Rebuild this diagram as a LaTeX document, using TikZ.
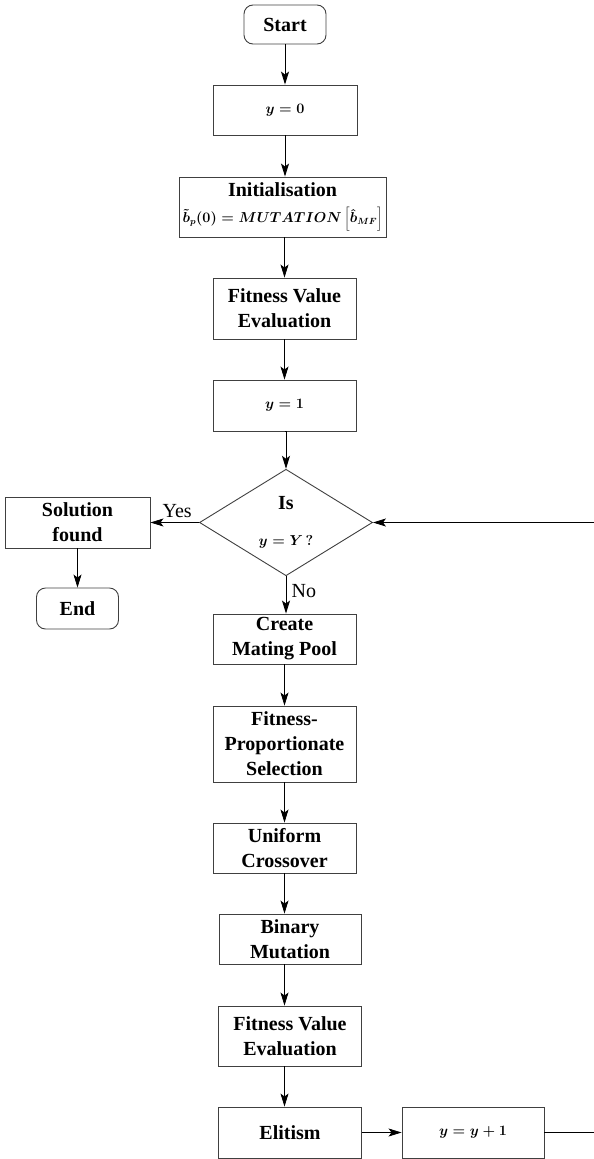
\documentclass[tikz,border=0pt]{standalone}
\usepackage{fontspec}
\setmainfont{Liberation Serif}
\usetikzlibrary{shapes.geometric,arrows.meta}
\begin{document}
\begin{tikzpicture} [x = 1pt, y = -1pt,
	box/.style = {draw = black!75, line width = 0.9pt, align = center, inner sep = 0pt, font = \fontsize{20}{25}\selectfont\bfseries},
	term/.style = {box, rounded corners = 9pt},
	maths/.style = {font = \fontsize{14}{16}\selectfont\boldmath},
	flow/.style = {line width = 0.8pt, -{Stealth[length = 13pt, width = 8pt, inset = 3pt]}},
	tag/.style = {font = \fontsize{20}{22}\selectfont}]
	\useasboundingbox (0,0) rectangle (594,1159);
	\node [term, minimum width = 82pt, minimum height = 39pt] (start) at (285,24.5) {Start};
	\node [box, maths, minimum width = 144pt, minimum height = 50pt] (yzero) at (285,110) {$y = 0$};
	\node [box, minimum width = 207pt, minimum height = 60pt] (init) at (282.5,207) {Initialisation\\[1pt]{\fontsize{13.5}{15}\selectfont\boldmath$\tilde{b}_{p}(0) = MUTATION\left[\hat{b}_{MF}\right]$}};
	\node [box, minimum width = 143pt, minimum height = 61pt] (fitone) at (284.5,308.5) {Fitness Value\\Evaluation};
	\node [box, maths, minimum width = 143pt, minimum height = 51pt] (yone) at (284.5,405.5) {$y = 1$};
	\node [draw = black!75, line width = 0.9pt, diamond, inner sep = 0pt, minimum width = 173pt, minimum height = 101pt, align = center] (test) at (286,522.5) {{\fontsize{20}{22}\selectfont\bfseries Is}\\[24pt]{\fontsize{14}{16}\selectfont\boldmath$y = Y\,?$}};
	\node [box, minimum width = 145pt, minimum height = 51pt] (found) at (77.5,522.5) {Solution\\found};
	\node [term, minimum width = 82pt, minimum height = 41pt] (stop) at (77.5,608.5) {End};
	\node [box, minimum width = 143pt, minimum height = 50pt] (pool) at (284.5,639) {Create\\Mating Pool};
	\node [box, minimum width = 143pt, minimum height = 76pt] (select) at (284.5,744) {Fitness-\\Proportionate\\Selection};
	\node [box, minimum width = 143pt, minimum height = 50pt] (cross) at (284.5,848) {Uniform\\Crossover};
	\node [box, minimum width = 142pt, minimum height = 50pt] (mutate) at (290,939) {Binary\\Mutation};
	\node [box, minimum width = 143pt, minimum height = 60pt] (fittwo) at (290,1036) {Fitness Value\\Evaluation};
	\node [box, minimum width = 143pt, minimum height = 51pt] (elite) at (290,1132.5) {Elitism};
	\node [box, maths, minimum width = 142pt, minimum height = 51pt] (yinc) at (473,1132.5) {$y = y + 1$};
	\coordinate (loopbot) at (597,1132.5);
	\coordinate (looptop) at (597,522.5);
	\draw [flow] (start) -- (yzero);
	\draw [flow] (yzero) -- (yzero |- init.north);
	\draw [flow] (init.south -| fitone) -- (fitone);
	\draw [flow] (fitone) -- (yone);
	\draw [flow] (yone.south) -- (yone.south -| test.north) -- (test.north);
	\draw [flow] (test.west) -- (found.east) node [tag, pos = 0.45, above = 1pt] (yes) {Yes};
	\draw [flow] (found) -- (stop);
	\draw [flow] (test.south) -- (test.south |- pool.north) node [tag, pos = 0.4, right = 2pt] (no) {No};
	\draw [flow] (pool) -- (select);
	\draw [flow] (select) -- (cross);
	\draw [flow] (cross.south) -- (cross.south |- mutate.north);
	\draw [flow] (cross.south |- mutate.south) -- (cross.south |- fittwo.north);
	\draw [flow] (cross.south |- fittwo.south) -- (cross.south |- elite.north);
	\draw [flow] (elite) -- (yinc);
	\draw [flow] (yinc.east) -- (loopbot) -- (looptop) -- (test.east);
\end{tikzpicture}
\end{document}
